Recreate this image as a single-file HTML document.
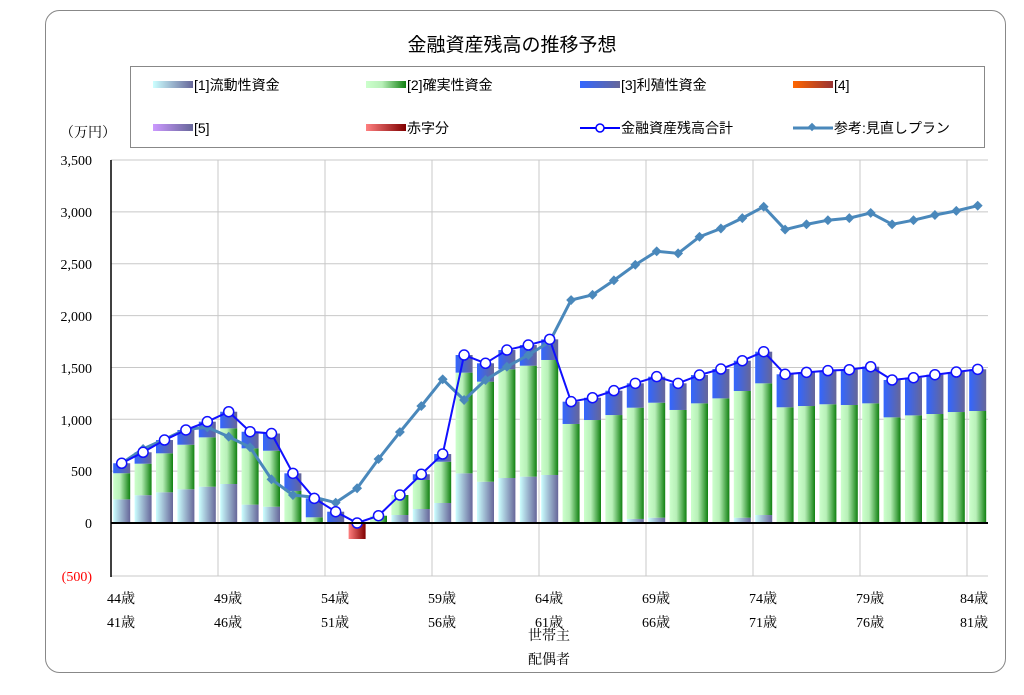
<!DOCTYPE html>
<html><head><meta charset="utf-8"><style>
body{margin:0;background:#fff;}
svg text{font-family:"Liberation Serif","Noto Serif CJK JP",serif;}
.s{font-family:"Liberation Sans","Noto Sans CJK JP",sans-serif !important;}
</style></head><body>
<svg id="c" width="1024" height="690" viewBox="0 0 1024 690" xmlns="http://www.w3.org/2000/svg">
<defs>
<linearGradient id="gL" x1="0" x2="1"><stop offset="0" stop-color="#ccffff"/><stop offset="1" stop-color="#666699"/></linearGradient>
<linearGradient id="gG" x1="0" x2="1"><stop offset="0" stop-color="#ccffcc"/><stop offset="0.4" stop-color="#b8f0b8"/><stop offset="1" stop-color="#108010"/></linearGradient>
<linearGradient id="gB" x1="0" x2="1"><stop offset="0" stop-color="#3366ff"/><stop offset="1" stop-color="#666699"/></linearGradient>
<linearGradient id="gR" x1="0" x2="1"><stop offset="0" stop-color="#ff8080"/><stop offset="1" stop-color="#800000"/></linearGradient>
<linearGradient id="gO" x1="0" x2="1"><stop offset="0" stop-color="#ff6600"/><stop offset="1" stop-color="#993333"/></linearGradient>
<linearGradient id="gP" x1="0" x2="1"><stop offset="0" stop-color="#cc99ff"/><stop offset="1" stop-color="#666699"/></linearGradient>
</defs>
<rect x="45.5" y="10.5" width="960" height="662" rx="14" fill="#fff" stroke="#888" stroke-width="1"/>
<text x="512" y="51" font-size="19" text-anchor="middle" class="s">金融資産残高の推移予想</text>
<rect x="130.5" y="66.5" width="854" height="81" fill="#fff" stroke="#888"/>
<g font-size="14" class="s">
<rect x="153" y="81" width="40" height="7" fill="url(#gL)"/><text x="194" y="90" class="s">[1]流動性資金</text>
<rect x="366" y="81" width="40" height="7" fill="url(#gG)"/><text x="407" y="90" class="s">[2]確実性資金</text>
<rect x="580" y="81" width="40" height="7" fill="url(#gB)"/><text x="621" y="90" class="s">[3]利殖性資金</text>
<rect x="793" y="81" width="40" height="7" fill="url(#gO)"/><text x="834" y="90" class="s">[4]</text>
<rect x="153" y="124" width="40" height="7" fill="url(#gP)"/><text x="194" y="133" class="s">[5]</text>
<rect x="366" y="124" width="40" height="7" fill="url(#gR)"/><text x="407" y="133" class="s">赤字分</text>
<line x1="580" y1="128" x2="620" y2="128" stroke="#0000ff" stroke-width="2"/><circle cx="600" cy="128" r="4" fill="#fff" stroke="#0000ff" stroke-width="1.5"/><text x="621" y="133" class="s">金融資産残高合計</text>
<line x1="793" y1="128" x2="833" y2="128" stroke="#4a88bb" stroke-width="3"/><rect x="809" y="124" width="6" height="6" fill="#4a88bb" transform="rotate(45 812 127)"/><text x="834" y="133" class="s">参考:見直しプラン</text>
</g>
<g id="grid" stroke="#c8c8c8" stroke-width="1"></g>
<g id="bars"></g>
<g id="lines"></g>
<line x1="111" y1="160" x2="111" y2="577" stroke="#000" stroke-width="1.5"/>
<line x1="111" y1="523" x2="988" y2="523" stroke="#000" stroke-width="2"/>
<g font-size="14" text-anchor="end">
<text x="60" y="137" text-anchor="start">（万円）</text>
<text x="92" y="165">3,500</text><text x="92" y="217">3,000</text><text x="92" y="269">2,500</text><text x="92" y="321">2,000</text><text x="92" y="373">1,500</text><text x="92" y="425">1,000</text><text x="92" y="476">500</text><text x="92" y="528">0</text><text x="92" y="581" fill="#ff0000">(500)</text>
</g>
<g font-size="14" text-anchor="middle">
<text x="121" y="603">44歳</text><text x="228" y="603">49歳</text><text x="335" y="603">54歳</text><text x="442" y="603">59歳</text><text x="549" y="603">64歳</text><text x="656" y="603">69歳</text><text x="763" y="603">74歳</text><text x="870" y="603">79歳</text><text x="974" y="603">84歳</text>
<text x="121" y="627">41歳</text><text x="228" y="627">46歳</text><text x="335" y="627">51歳</text><text x="442" y="627">56歳</text><text x="549" y="627">61歳</text><text x="656" y="627">66歳</text><text x="763" y="627">71歳</text><text x="870" y="627">76歳</text><text x="974" y="627">81歳</text>
<text x="549" y="640">世帯主</text><text x="549" y="664">配偶者</text>
</g>
</svg>
<script>
var NS="http://www.w3.org/2000/svg";
function el(p,t,a){var e=document.createElementNS(NS,t);for(var k in a)e.setAttribute(k,a[k]);p.appendChild(e);return e;}
var Y=function(v){return 523-v*0.1037;};
var X=function(i){return 111+10.7+21.4*i;};
var g=document.getElementById('grid');
for(var v=500;v<=3500;v+=500)el(g,'line',{x1:111,x2:988,y1:Y(v),y2:Y(v)});
el(g,'line',{x1:111,x2:988,y1:576,y2:576});
for(var k=1;k<=8;k++){var x=111+107*k;el(g,'line',{x1:x,x2:x,y1:160,y2:576});}
var L=[228,268,296,325,350,376,177,157,0,0,0,0,0,77,135,193,479,398,434,447,463,0,0,5,39,51,0,5,10,51,77,0,0,0,0,0,0,0,0,0,0];
var G=[480,572,672,755,826,913,720,697,309,55,0,0,70,270,415,591,1450,1363,1482,1517,1572,955,993,1041,1112,1160,1090,1154,1202,1273,1347,1116,1128,1145,1138,1154,1019,1038,1051,1070,1080];
var T=[576,682,800,897,977,1073,880,863,479,238,109,0,70,270,470,665,1620,1540,1668,1716,1771,1170,1208,1276,1347,1411,1347,1427,1485,1565,1652,1434,1453,1469,1478,1507,1379,1401,1430,1456,1482];
var R=[576,714,807,903,923,832,730,421,270,248,196,335,617,877,1128,1386,1186,1379,1507,1620,1748,2150,2200,2340,2490,2620,2600,2760,2840,2940,3050,2830,2880,2920,2940,2990,2880,2920,2970,3010,3060];
var b=document.getElementById('bars');
for(var i=0;i<41;i++){var x=X(i)-8.5,w=17;
 if(L[i]>0)el(b,'rect',{x:x,y:Y(L[i]),width:w,height:L[i]*0.1037,fill:'url(#gL)'});
 if(G[i]>L[i])el(b,'rect',{x:x,y:Y(G[i]),width:w,height:(G[i]-L[i])*0.1037,fill:'url(#gG)'});
 if(T[i]>G[i])el(b,'rect',{x:x,y:Y(T[i]),width:w,height:(T[i]-G[i])*0.1037,fill:'url(#gB)'});
}
el(b,'rect',{x:X(11)-8.5,y:523,width:17,height:16,fill:'url(#gR)'});
var ln=document.getElementById('lines');
var p1=T.map(function(v,i){return X(i)+','+Y(v)}).join(' ');
var p2=R.map(function(v,i){return X(i)+','+Y(v)}).join(' ');
el(ln,'polyline',{points:p2,fill:'none',stroke:'#4a88bb','stroke-width':3});
R.forEach(function(v,i){el(ln,'rect',{x:X(i)-3.5,y:Y(v)-3.5,width:7,height:7,fill:'#4a88bb',transform:'rotate(45 '+X(i)+' '+Y(v)+')'});});
el(ln,'polyline',{points:p1,fill:'none',stroke:'#1010ff','stroke-width':2});
T.forEach(function(v,i){el(ln,'circle',{cx:X(i),cy:Y(v),r:5,fill:'#fff',stroke:'#1010ff','stroke-width':1.5});});
</script>
</body></html>
